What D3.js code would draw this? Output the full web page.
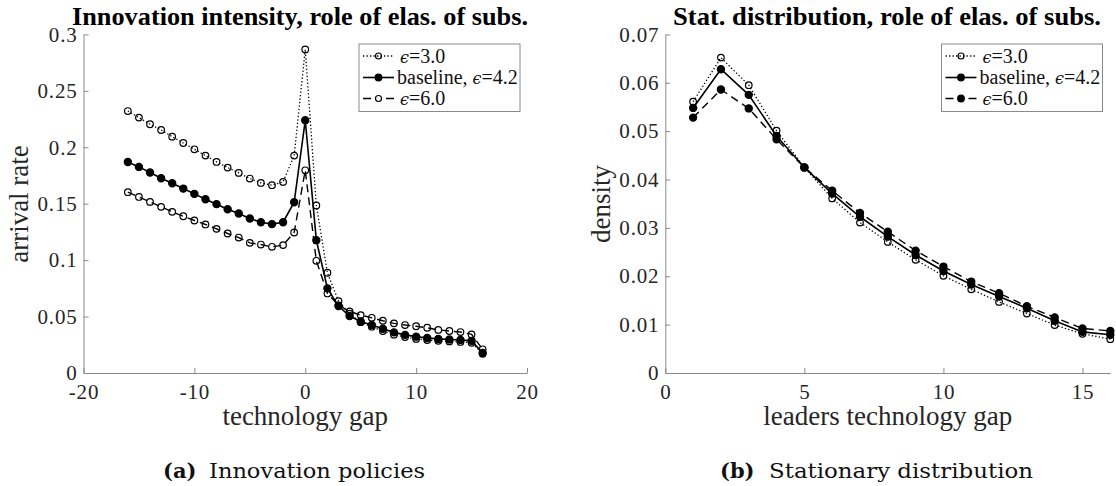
<!DOCTYPE html>
<html><head><meta charset="utf-8">
<script src="https://cdn.jsdelivr.net/npm/d3@7"></script>
<style>
html,body{margin:0;padding:0;background:#fff;}
svg{display:block;}
text{font-family:"Liberation Serif","Times New Roman",serif;}
</style></head>
<body>
<svg id="c" width="1116" height="486"></svg>
<script>
// ---------- data ----------
const gapsL = [-16,-15,-14,-13,-12,-11,-10,-9,-8,-7,-6,-5,-4,-3,-2,-1,0,1,2,3,4,5,6,7,8,9,10,11,12,13,14,15,16];
const arrivalEps30 = [0.2321,0.2263,0.2204,0.2153,0.2094,0.2038,0.1982,0.1926,0.1870,0.1820,0.1773,0.1723,0.1684,0.1664,0.1693,0.1926,0.2867,
  0.1484,0.0888,0.0637,0.0525,0.0450,0.0410,0.0372,0.0340,0.0318,0.0302,0.0292,0.0285,0.0280,0.0275,0.0268,0.0170];
const arrivalBase = [0.1870,0.1826,0.1776,0.1726,0.1681,0.1634,0.1587,0.1540,0.1496,0.1451,0.1413,0.1369,0.1335,0.1319,0.1336,0.1513,0.2239,
  0.1177,0.0750,0.0593,0.0505,0.0456,0.0425,0.0392,0.0360,0.0338,0.0322,0.0310,0.0302,0.0297,0.0293,0.0285,0.0178];
const arrivalEps60 = [0.1602,0.1560,0.1516,0.1472,0.1428,0.1389,0.1351,0.1316,0.1277,0.1236,0.1200,0.1153,0.1138,0.1118,0.1133,0.1245,0.1796,
  0.0994,0.0705,0.0600,0.0545,0.0513,0.0489,0.0463,0.0440,0.0425,0.0414,0.0401,0.0382,0.0372,0.0363,0.0342,0.0210];

const gapsR = [1,2,3,4,5,6,7,8,9,10,11,12,13,14,15,16];
const densEps30 = [0.0561,0.0652,0.0595,0.0501,0.0425,0.0361,0.0311,0.0271,0.0234,0.0201,0.0173,0.0147,0.0123,0.0099,0.0081,0.0070];
const densBase  = [0.0548,0.0628,0.0575,0.0490,0.0425,0.0371,0.0323,0.0282,0.0244,0.0211,0.0183,0.0158,0.0134,0.0108,0.0085,0.0079];
const densEps60 = [0.0528,0.0586,0.0547,0.0483,0.0425,0.0377,0.0331,0.0292,0.0253,0.0220,0.0189,0.0165,0.0138,0.0115,0.0092,0.0087];

const seriesNames = ["\u03F5=3.0", "baseline, \u03F5=4.2", "\u03F5=6.0"];
const xTicksL = [-20,-10,0,10,20];
const xTickLabelsL = ["-20","-10","0","10","20"];
const yTicksL = [0,0.05,0.1,0.15,0.2,0.25,0.3];
const yTickLabelsL = ["0","0.05","0.1","0.15","0.2","0.25","0.3"];
const xTicksR = [0,5,10,15];
const xTickLabelsR = ["0","5","10","15"];
const yTicksR = [0,0.01,0.02,0.03,0.04,0.05,0.06,0.07];
const yTickLabelsR = ["0","0.01","0.02","0.03","0.04","0.05","0.06","0.07"];

// ---------- drawing ----------
const svg = d3.select("#c");
const AX = "#8a8a8a", TX = "#262626";

function styleAxis(g){
  g.attr("font-family", null).attr("font-size", null);
  g.selectAll("path.domain").attr("stroke", AX).attr("stroke-width", 1);
  g.selectAll(".tick line").attr("stroke", AX).attr("stroke-width", 1);
  g.selectAll(".tick text").attr("fill", TX)
    .attr("font-family", "Liberation Serif, serif")
    .attr("font-size", 21).attr("letter-spacing", 0.8);
}

function panel(cfg){
  const x = d3.scaleLinear().domain(cfg.xd).range(cfg.xr);
  const y = d3.scaleLinear().domain(cfg.yd).range([373, 34.4]);
  const gx = svg.append("g").attr("transform", "translate(0,373)")
    .call(d3.axisBottom(x).tickValues(cfg.xt).tickFormat((d,i)=>cfg.xtl[i]).tickSizeInner(-5).tickSizeOuter(0).tickPadding(8));
  gx.selectAll(".tick text").attr("dy", "0.85em");
  styleAxis(gx);
  const gy = svg.append("g").attr("transform", `translate(${cfg.xr[0]},0)`)
    .call(d3.axisLeft(y).tickValues(cfg.yt).tickFormat((d,i)=>cfg.ytl[i]).tickSizeInner(-5).tickSizeOuter(0).tickPadding(6));
  styleAxis(gy);

  const line = d3.line().x((d,i)=>x(cfg.xs[i])).y(d=>y(d));
  const styles = [
    {dash:"1.3,2.2", w:1.3, fill:"none"},
    {dash:null, w:1.6, fill:"#000"},
    {dash:"8,5", w:1.4, fill:cfg.fill3}
  ];
  cfg.ys.forEach((vals, k)=>{
    const st = styles[k];
    svg.append("path").datum(vals).attr("d", line).attr("fill","none")
      .attr("stroke","#000").attr("stroke-width", st.w)
      .attr("stroke-dasharray", st.dash);
    svg.append("g").selectAll("circle").data(vals).join("circle")
      .attr("cx",(d,i)=>x(cfg.xs[i])).attr("cy", d=>y(d))
      .attr("r", st.fill==="none"?3.3:3.6)
      .attr("fill", st.fill).attr("stroke","#000").attr("stroke-width",1.2);
  });

  // title
  svg.append("text").attr("x", cfg.tx).attr("y", 25).attr("text-anchor","middle")
    .attr("textLength", cfg.tw).attr("lengthAdjust","spacingAndGlyphs")
    .style("font-weight","bold").style("font-size","26px").attr("fill","#000").text(cfg.title);
  // axis labels
  svg.append("text").attr("x", (cfg.xr[0]+cfg.xr[1])/2).attr("y", 425).attr("text-anchor","middle")
    .style("font-size","27px").attr("fill",TX).text(cfg.xlabel);
  svg.append("text").attr("transform", `translate(${cfg.ylx},204) rotate(-90)`).attr("text-anchor","middle")
    .style("font-size","27px").attr("fill",TX).text(cfg.ylabel);
  // caption
  svg.append("text").attr("x", cfg.cap[0]).attr("y", 478).style("font-family",'"DejaVu Serif",serif')
    .style("font-weight","bold").style("font-size","21px").attr("fill","#111").text(cfg.capA);
  svg.append("text").attr("x", cfg.cap[1]).attr("y", 478).style("font-family",'"DejaVu Serif",serif')
    .attr("textLength", cfg.cap[2]).attr("lengthAdjust","spacingAndGlyphs")
    .style("font-size","21px").attr("fill","#111").text(cfg.capB);

  // legend
  const L = cfg.leg;
  svg.append("rect").attr("x",L).attr("y",44).attr("width",161).attr("height",67.5)
    .attr("fill","#fff").attr("stroke",AX).attr("stroke-width",1);
  const rowsY = [56, 77.5, 98.5];
  seriesNames.forEach((nm,k)=>{
    const st = styles[k];
    const yy = rowsY[k];
    svg.append("line").attr("x1",L+4).attr("x2",L+35).attr("y1",yy).attr("y2",yy)
      .attr("stroke","#000").attr("stroke-width",st.w)
      .attr("stroke-dasharray", k===2 ? "8,15" : st.dash);
    svg.append("circle").attr("cx",L+19.5).attr("cy",yy).attr("r", st.fill==="none"?3:3.3)
      .attr("fill",st.fill).attr("stroke","#000").attr("stroke-width",1.2);
    const t = svg.append("text").attr("x", L + (k===1?38:41)).attr("y", yy+6.5)
      .style("font-size","20px").attr("fill","#111");
    if(k===1){
      t.append("tspan").text("baseline, ");
      t.append("tspan").style("font-style","italic").style("font-family",'"DejaVu Serif",serif').style("font-size","16px").text("\u03F5");
      t.append("tspan").text("=4.2");
    } else {
      t.append("tspan").style("font-style","italic").style("font-family",'"DejaVu Serif",serif').style("font-size","16px").text("\u03F5");
      t.append("tspan").text(nm.slice(1));
    }
  });
}

panel({xd:[-20,20], xr:[83.5,527], yd:[0,0.3], xs:gapsL, ys:[arrivalEps30, arrivalBase, arrivalEps60],
  xt:xTicksL, xtl:xTickLabelsL, yt:yTicksL, ytl:yTickLabelsL, fill3:"none",
  title:"Innovation intensity, role of elas. of subs.", tx:300, tw:456,
  xlabel:"technology gap", ylabel:"arrival rate", ylx:28,
  capA:"(a)", capB:"Innovation policies", cap:[163,209,216], leg:359});

panel({xd:[0,16], xr:[665.3,1110.3], yd:[0,0.07], xs:gapsR, ys:[densEps30, densBase, densEps60],
  xt:xTicksR, xtl:xTickLabelsR, yt:yTicksR, ytl:yTickLabelsR, fill3:"#000",
  title:"Stat. distribution, role of elas. of subs.", tx:887, tw:428,
  xlabel:"leaders technology gap", ylabel:"density", ylx:610,
  capA:"(b)", capB:"Stationary distribution", cap:[720,769,264], leg:941.5});
</script>
</body></html>
